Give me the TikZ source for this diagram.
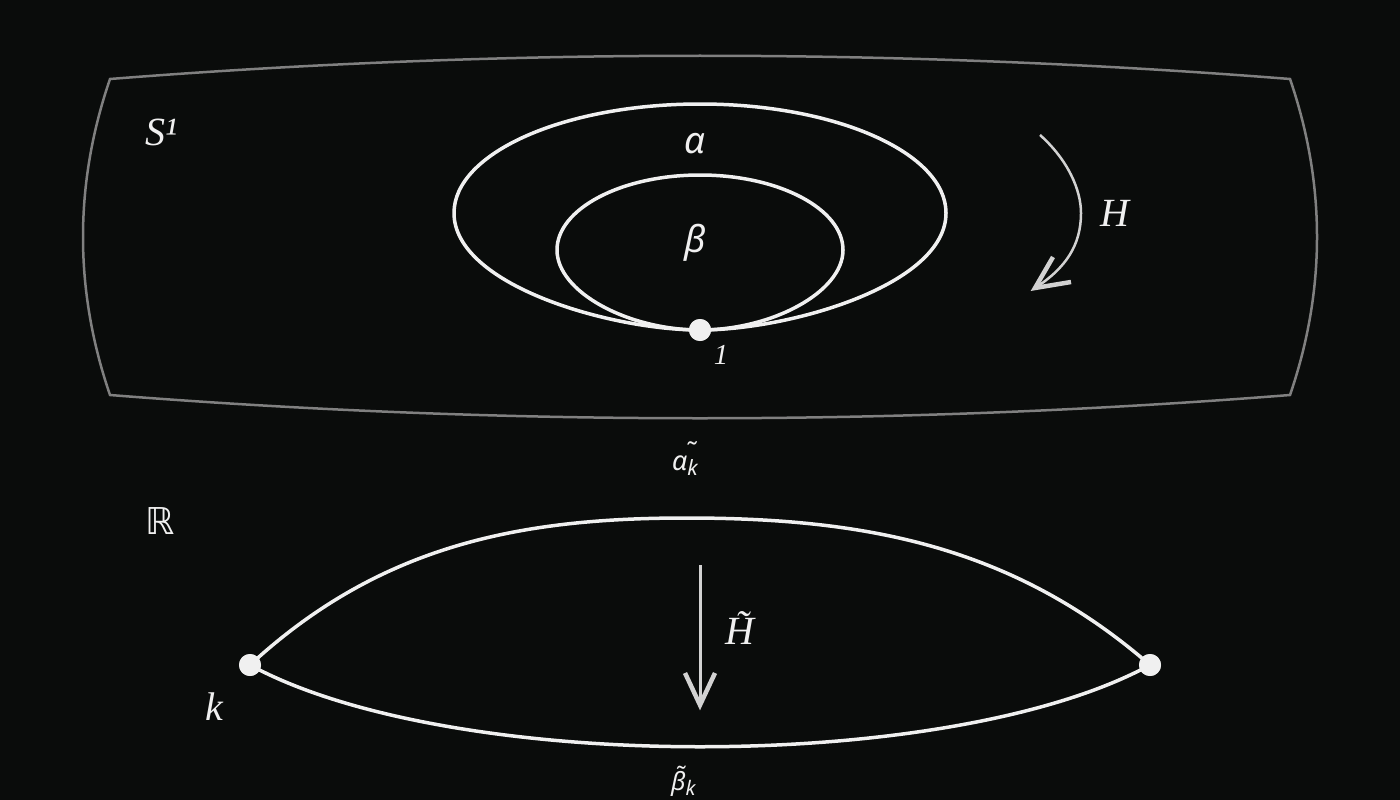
\documentclass[tikz,border=0pt]{standalone}
\usepackage{fontspec}
\setmainfont{Liberation Serif}
\newfontfamily\gkfont{Noto Sans}
\newfontfamily\dvfont{DejaVu Sans}
\definecolor{bgc}{HTML}{0A0C0B}
\definecolor{framec}{HTML}{808080}
\definecolor{curvec}{HTML}{F0F0F0}
\definecolor{arrowc}{HTML}{D2D2D2}
\tikzset{
  framestyle/.style={draw=framec, line width=2.5pt, line join=miter},
  loopstyle/.style={draw=curvec, line width=3.5pt},
  dotstyle/.style={circle, fill=curvec, inner sep=0pt, minimum size=22pt},
  flowstyle/.style={draw=arrowc, line width=2.5pt},
  headstyle/.style={draw=arrowc, line width=4.5pt, line cap=butt, line join=miter},
  serlab/.style={text=curvec, inner sep=0pt, font=\fontsize{40}{42}\selectfont\itshape},
  gklab/.style={text=curvec, inner sep=0pt, font=\gkfont\itshape\fontsize{37}{40}\selectfont},
  smalllab/.style={text=curvec, inner sep=0pt, font=\gkfont\itshape\fontsize{27}{30}\selectfont},
}
\begin{document}
\begin{tikzpicture}[x=1pt,y=-1pt]
\fill[bgc] (0,0) rectangle (1400,800);
\useasboundingbox (0,0) rectangle (1400,800);
% frame of S^1
\coordinate (fa) at (110,79);
\coordinate (fb) at (1290,79);
\coordinate (fc) at (1290,395);
\coordinate (fd) at (110,395);
\draw[framestyle] (fa) .. controls (503,48) and (897,48) .. (fb)
  .. controls (1326,184) and (1326,290) .. (fc)
  .. controls (897,426) and (503,426) .. (fd)
  .. controls (74,290) and (74,184) .. cycle;
% base point
\node[dotstyle] (one) at (700,330) {};
% outer loop alpha
\draw[loopstyle] (one.center) .. controls (610,330) and (454,285) .. (454,213)
  .. controls (454,153) and (564,104) .. (700,104)
  .. controls (836,104) and (946,153) .. (946,213)
  .. controls (946,285) and (790,330) .. (one.center);
% inner loop beta
\draw[loopstyle] (one.center) .. controls (628,330) and (557,292) .. (557,250)
  .. controls (557,209) and (621,175) .. (700,175)
  .. controls (779,175) and (843,209) .. (843,250)
  .. controls (843,292) and (772,330) .. (one.center);
\node[dotstyle] at (one) {};
\node[serlab, font=\fontsize{29}{30}\selectfont\itshape] (onelab) at (721,355) {1};
\node[gklab] (alab) at (695,144) {α};
\node[gklab] (blab) at (695,243) {β};
\node[serlab] (s1lab) at (161,132) {S¹};
% H arrow
\coordinate (hs) at (1040,135);
\coordinate (ht) at (1035,288);
\coordinate (hl) at (1053,257);
\coordinate (hr) at (1071,282);
\draw[flowstyle] (hs) .. controls (1068,160) and (1081,190) .. (1081,213)
  .. controls (1081,245) and (1066,268) .. (ht);
\draw[headstyle] (hl) -- (ht) -- (hr);
\node[serlab] (hlab) at (1115,213) {H};
% lower part
\node[smalllab, anchor=base west] (atk) at (672,470) {α\rlap{\hspace{-3pt}\raisebox{9pt}{˜}}\raisebox{-5pt}{\fontsize{21}{22}\selectfont k}};
\node[text=curvec, inner sep=0pt, font=\dvfont\fontsize{37}{40}\selectfont] (rlab) at (160,521) {ℝ};
\node[dotstyle] (kdot) at (250,665) {};
\node[dotstyle] (mdot) at (1150,665) {};
\draw[loopstyle] (kdot.center) .. controls (380,545) and (520,518) .. (686,518)
  .. controls (863,518) and (1012,545) .. (mdot.center);
\draw[loopstyle] (kdot.center) .. controls (450,774) and (950,774) .. (mdot.center);
\node[dotstyle] at (kdot) {};
\node[dotstyle] at (mdot) {};
\node[serlab] (klab) at (214,707) {k};
% H tilde arrow
\coordinate (vs) at (700,565);
\coordinate (vt) at (700,705);
\coordinate (vl) at (685,673);
\coordinate (vr) at (715,673);
\draw[flowstyle, line width=3pt] (vs) -- (vt);
\draw[headstyle] (vl) -- (vt) -- (vr);
\node[serlab] (htlab) at (740,628) {H̃};
\node[smalllab, anchor=base west, font=\gkfont\itshape\fontsize{25}{27}\selectfont] (btk) at (671,790) {\rlap{\hspace{3pt}\raisebox{6pt}{˜}}β\raisebox{-5pt}{\fontsize{20}{22}\selectfont k}};
\end{tikzpicture}
\end{document}
